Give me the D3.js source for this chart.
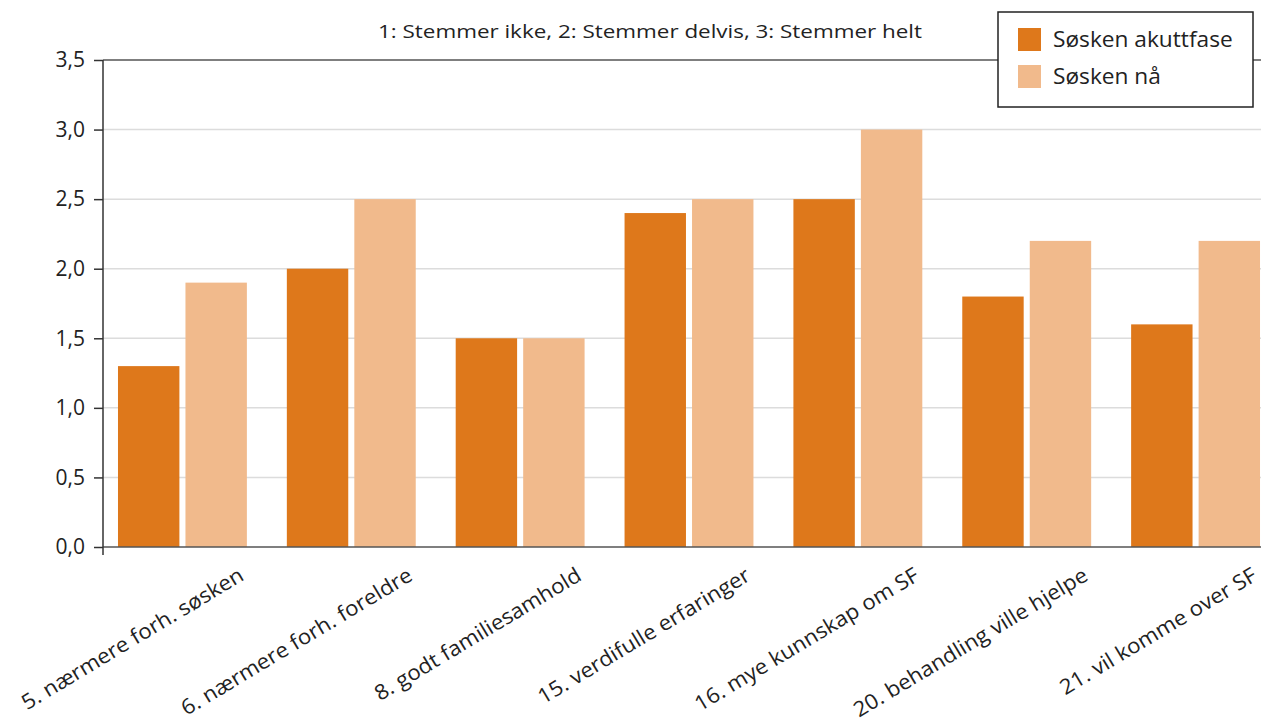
<!DOCTYPE html>
<html>
<head>
<meta charset="utf-8">
<script src="https://cdn.jsdelivr.net/npm/d3@7"></script>
<style>
  body { margin: 0; background: #fff; }
  svg { font-family: "Open Sans", sans-serif; }
</style>
</head>
<body>
<svg width="1261" height="722"></svg>
<script>
// data
var categories = ["5. nærmere forh. søsken", "6. nærmere forh. foreldre", "8. godt familiesamhold",
  "15. verdifulle erfaringer", "16. mye kunnskap om SF", "20. behandling ville hjelpe", "21. vil komme over SF"];
var seriesNames = ["Søsken akuttfase", "Søsken nå"];
var akuttfase = [1.3, 2.0, 1.5, 2.4, 2.5, 1.8, 1.6];
var naa = [1.9, 2.5, 1.5, 2.5, 3.0, 2.2, 2.2];
var yTicks = [0, 0.5, 1.0, 1.5, 2.0, 2.5, 3.0, 3.5];
var colors = ["#de781b", "#f1ba8c"];
var title = "1: Stemmer ikke, 2: Stemmer delvis, 3: Stemmer helt";

var svg = d3.select("svg");

var axisX = 103, plotRight = 1261;

// widen glyphs a bit, the original font is wider than Open Sans
function stretch(sel, k) {
    sel.each(function () {
        var len = this.getComputedTextLength();
        d3.select(this)
            .attr("textLength", len * k)
            .attr("lengthAdjust", "spacingAndGlyphs");
    });
}

var y = d3.scaleLinear().domain([0, 3.5]).range([547, 60]);

var x0 = d3.scaleBand()
    .domain(categories)
    .range([98, 1280])
    .paddingInner(40 / 169)
    .paddingOuter(20 / 169);

var x1 = d3.scaleBand()
    .domain(seriesNames)
    .range([0, x0.bandwidth()])
    .paddingInner(0.09);

var rows = categories.map(function (c, i) {
    return { cat: c, vals: [akuttfase[i], naa[i]] };
});

// gridlines
svg.append("g")
    .selectAll("line")
    .data(yTicks.filter(function (d) { return d > 0 && d < 3.5; }))
    .enter()
    .append("line")
    .attr("x1", axisX).attr("x2", plotRight)
    .attr("y1", d => y(d)).attr("y2", d => y(d))
    .attr("stroke", "#dcdcdc")
    .attr("stroke-width", 1.5);

// top line
svg.append("line")
    .attr("x1", axisX).attr("x2", plotRight)
    .attr("y1", y(3.5)).attr("y2", y(3.5))
    .attr("stroke", "#555")
    .attr("stroke-width", 1.5);

// bars
var groups = svg.append("g")
    .selectAll("g")
    .data(rows)
    .enter()
    .append("g")
    .attr("transform", d => "translate(" + x0(d.cat) + ",0)");

groups.selectAll("rect")
    .data(d => d.vals.map((v, i) => ({ key: seriesNames[i], v: v, i: i })))
    .enter()
    .append("rect")
    .attr("x", d => x1(d.key))
    .attr("width", x1.bandwidth())
    .attr("y", d => y(d.v))
    .attr("height", d => y(0) - y(d.v))
    .attr("fill", d => colors[d.i]);

// baseline
svg.append("line")
    .attr("x1", axisX).attr("x2", plotRight)
    .attr("y1", y(0)).attr("y2", y(0))
    .attr("stroke", "#555")
    .attr("stroke-width", 1.5);

// y axis
var yAxis = d3.axisLeft(y)
    .tickValues(yTicks)
    .tickSize(9)
    .tickPadding(9)
    .tickFormat(d => d3.format(".1f")(d).replace(".", ","));

var yg = svg.append("g")
    .attr("transform", "translate(" + axisX + ",0)")
    .call(yAxis);
yg.select(".domain").remove();
yg.selectAll(".tick line").attr("stroke", "#333").attr("stroke-width", 1.5);
yg.selectAll("text")
    .attr("font-size", 21)
    .attr("fill", "#222")
    .attr("font-family", "Open Sans, sans-serif");

svg.append("line")
    .attr("x1", axisX).attr("x2", axisX)
    .attr("y1", y(3.5)).attr("y2", y(0) + 8)
    .attr("stroke", "#333")
    .attr("stroke-width", 1.5);

// x labels
var xl = svg.append("g")
    .selectAll("text")
    .data(categories)
    .enter()
    .append("text")
    .attr("transform", d => "translate(" + (x0(d) + x0.bandwidth() / 2 + 59) + ",573) rotate(-31)")
    .attr("text-anchor", "end")
    .attr("dy", "0.35em")
    .attr("font-size", 21)
    .attr("fill", "#222")
    .text(d => d);
stretch(xl, 1.06);

// title
var t = svg.append("text")
    .attr("x", 650)
    .attr("y", 38)
    .attr("text-anchor", "middle")
    .attr("font-size", 19)
    .attr("fill", "#222")
    .text(title);
stretch(t, 1.18);

// legend
var legend = svg.append("g");
legend.append("rect")
    .attr("x", 998).attr("y", 12)
    .attr("width", 255).attr("height", 95)
    .attr("fill", "#fff")
    .attr("stroke", "#222")
    .attr("stroke-width", 1.5);

var items = legend.selectAll("g.item")
    .data(seriesNames)
    .enter()
    .append("g")
    .attr("class", "item")
    .attr("transform", (d, i) => "translate(1018," + (28 + i * 37) + ")");

items.append("rect")
    .attr("width", 23).attr("height", 23)
    .attr("fill", (d, i) => colors[i]);

var lt = items.append("text")
    .attr("x", 35)
    .attr("y", 12)
    .attr("dy", "0.35em")
    .attr("font-size", 21)
    .attr("fill", "#222")
    .text(d => d);
stretch(lt, 1.08);
</script>
</body>
</html>
